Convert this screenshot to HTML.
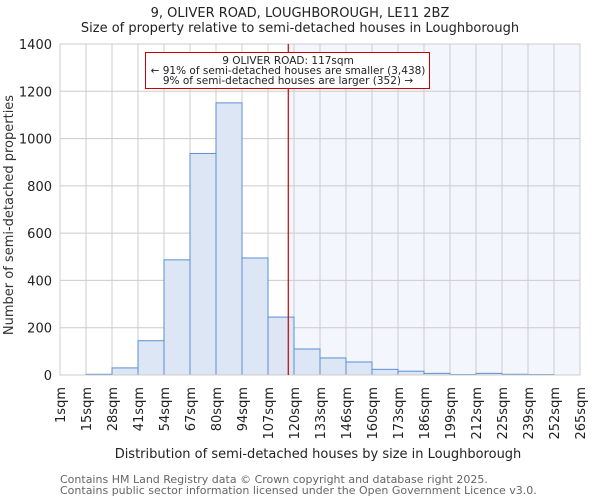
<!DOCTYPE html>
<html><head><meta charset="utf-8"><style>
body{margin:0;background:#fff;}
svg{display:block;font-family:"DejaVu Sans","Liberation Sans",sans-serif;}
</style></head><body>
<svg id="chart" width="600" height="500" viewBox="0 0 600 500">
<text x="300" y="17" text-anchor="middle" font-size="13" fill="#222">9, OLIVER ROAD, LOUGHBOROUGH, LE11 2BZ</text>
<text x="300" y="32" text-anchor="middle" font-size="13" fill="#222">Size of property relative to semi-detached houses in Loughborough</text>
<g id="plot"></g>
<text x="0" y="0" transform="translate(13,215) rotate(-90)" text-anchor="middle" font-size="13" fill="#333">Number of semi-detached properties</text>
<text x="318" y="458" text-anchor="middle" font-size="13" fill="#222">Distribution of semi-detached houses by size in Loughborough</text>
<text x="60" y="483" font-size="11" fill="#666">Contains HM Land Registry data © Crown copyright and database right 2025.</text>
<text x="60" y="494" font-size="11" fill="#666">Contains public sector information licensed under the Open Government Licence v3.0.</text>
</svg>
<script>
const binLabels = ["1sqm","15sqm","28sqm","41sqm","54sqm","67sqm","80sqm","94sqm","107sqm","120sqm","133sqm","146sqm","160sqm","173sqm","186sqm","199sqm","212sqm","225sqm","239sqm","252sqm","265sqm"];
const counts = [0,3,30,145,487,937,1151,495,245,110,72,55,24,16,7,2,7,3,2,0];
const yTicks = [0,200,400,600,800,1000,1200,1400];
const markerBin = 8.78;

const NS="http://www.w3.org/2000/svg";
const g=document.getElementById('plot');
const L=60,R=580,T=44,B=375,yMax=1400;
const bw=(R-L)/counts.length;
const xs=i=>L+i*bw;
const ys=v=>B-(v/yMax)*(B-T);
function mk(tag,attrs){const e=document.createElementNS(NS,tag);for(const k in attrs)e.setAttribute(k,attrs[k]);g.appendChild(e);return e;}

const mx=xs(markerBin);
let e=mk('rect',{x:mx,y:T,width:R-mx,height:B-T,fill:'#f4f6fd'});


yTicks.forEach(t=>{
  let l=mk('line',{x1:L,x2:R,y1:ys(t),y2:ys(t),stroke:'#ccc','stroke-width':1});
  
  
  let tx=mk('text',{x:L-8,y:ys(t)+5,'text-anchor':'end','font-size':13,fill:'#222'});
  tx.textContent=t;
  
  
});
binLabels.forEach((lab,i)=>{
  let l=mk('line',{x1:xs(i),x2:xs(i),y1:T,y2:B,stroke:'#ccc','stroke-width':1});
  
  
  let tx=mk('text',{x:0,y:0,transform:`translate(${xs(i)+5},387) rotate(-90)`,'text-anchor':'end','font-size':13,fill:'#222'});
  tx.textContent=lab;
  
  
});
counts.forEach((c,i)=>{
  if(c<=0)return;
  let r=mk('rect',{x:xs(i),y:ys(c),width:bw,height:B-ys(c),fill:'#dce6f4',stroke:'#5b8fd4','stroke-width':1});
  
  
});
e=mk('rect',{x:L,y:T,width:R-L,height:B-T,fill:'none',stroke:'#ccc','stroke-width':1});


e=mk('line',{x1:mx,x2:mx,y1:T,y2:B,stroke:'#cc0000','stroke-width':1.2});


e=mk('rect',{x:145.5,y:52.5,width:284,height:36,fill:'#fff',stroke:'#cc0000','stroke-width':1});


[["9 OLIVER ROAD: 117sqm",62],["← 91% of semi-detached houses are smaller (3,438)",72],["9% of semi-detached houses are larger (352) →",82]].forEach(([s,y],k)=>{
  let tx=mk('text',{x:288,y:y+2,'text-anchor':'middle','font-size':10.5,fill:'#222'});
  tx.textContent=s;
  
  
});
</script>
</body></html>
